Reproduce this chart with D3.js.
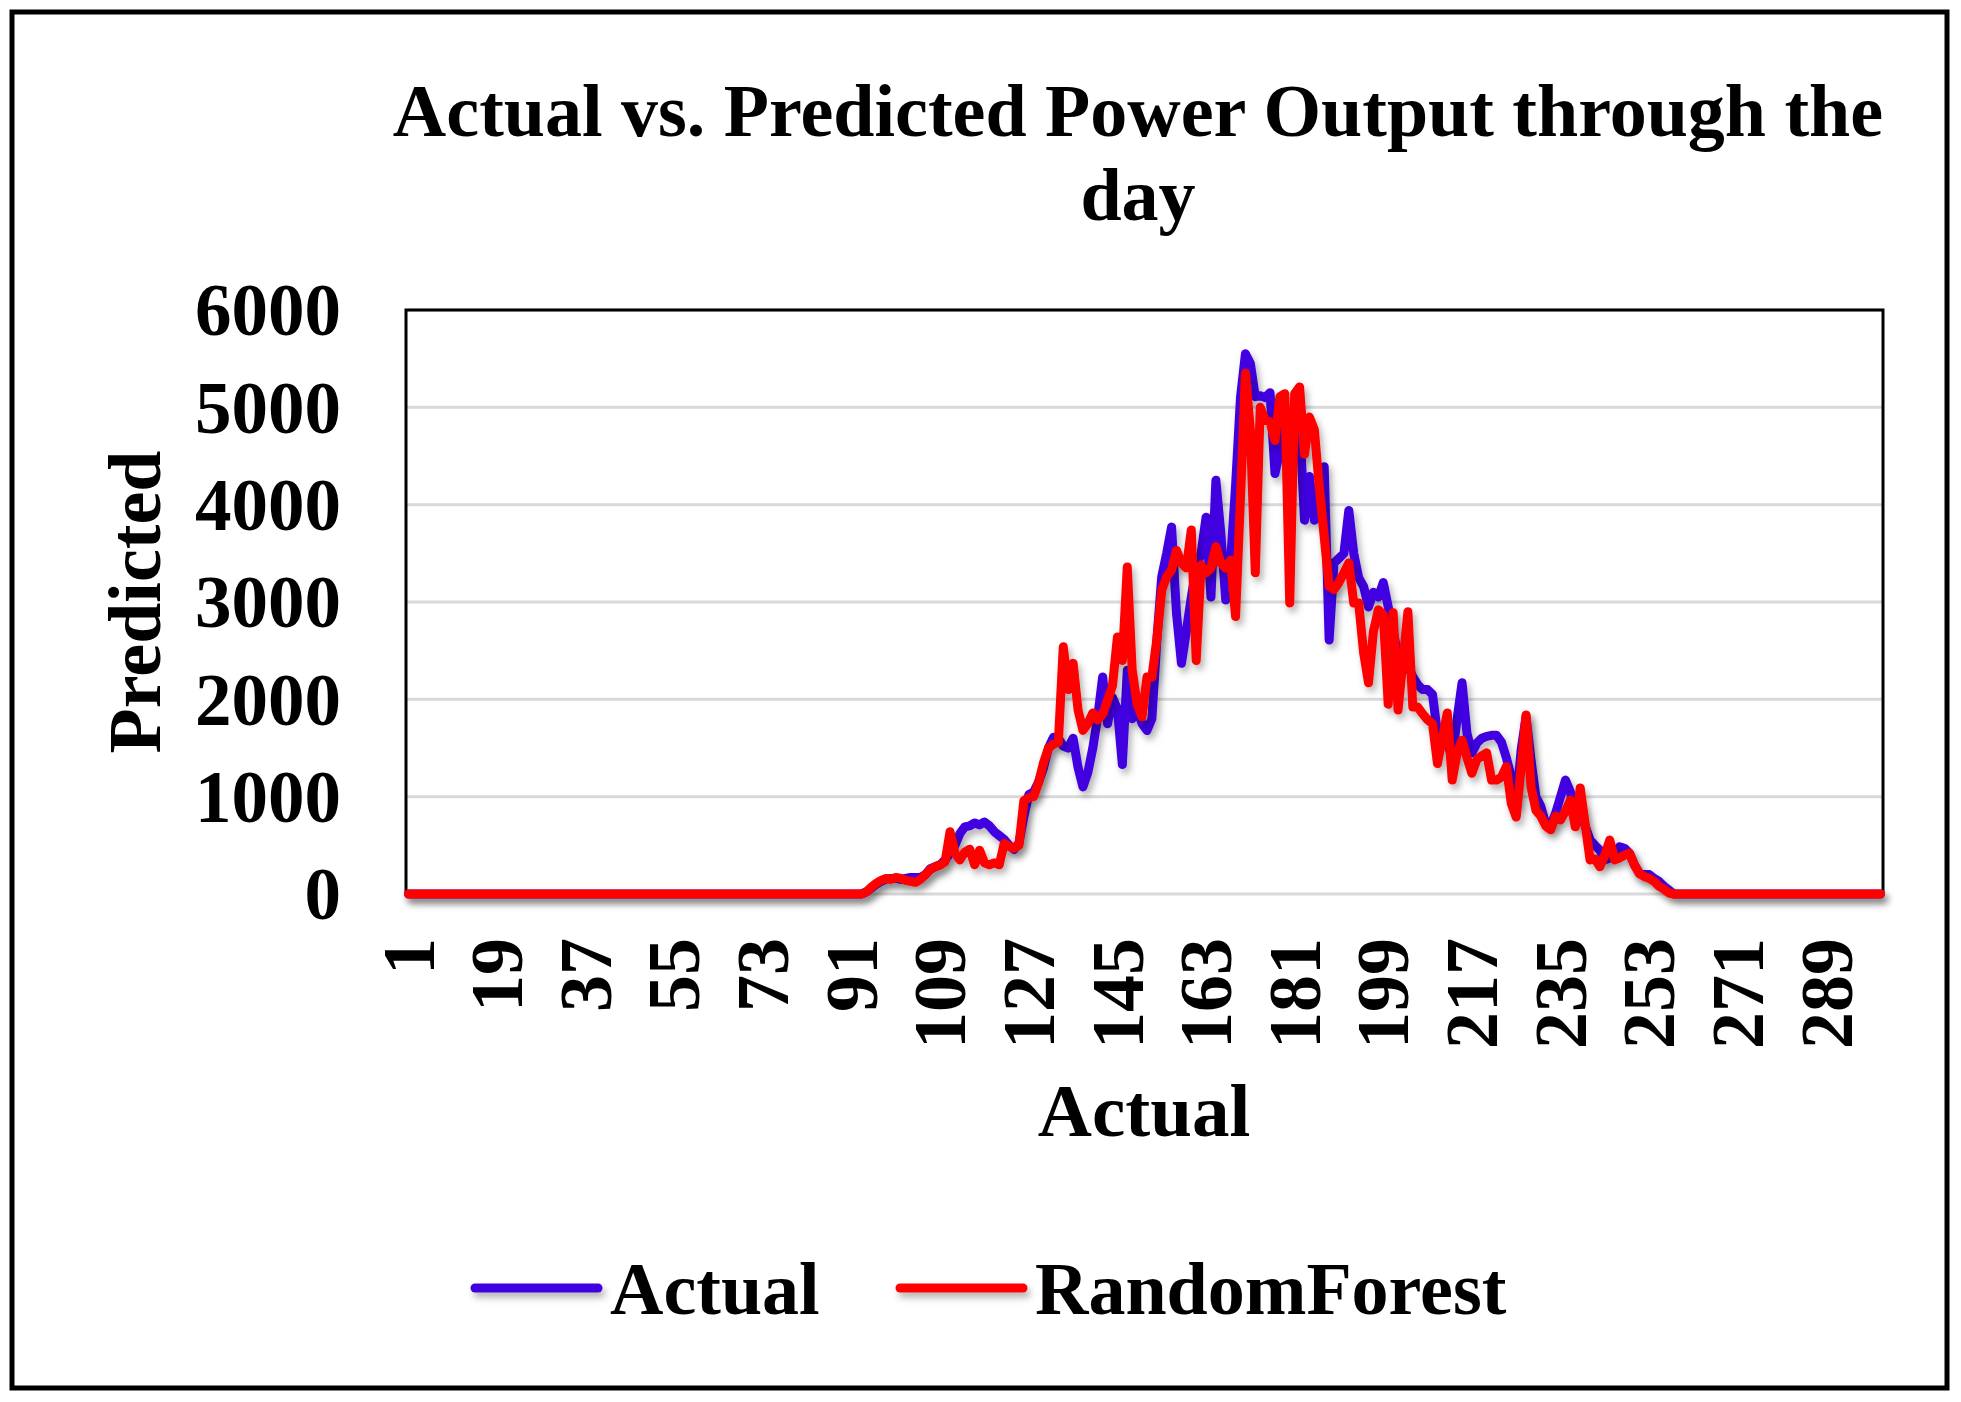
<!DOCTYPE html>
<html>
<head>
<meta charset="utf-8">
<script src="https://cdn.jsdelivr.net/npm/d3@7"></script>
<style>
  html, body { margin: 0; padding: 0; background: #fff; }
  svg { display: block; }
  text { font-family: "Liberation Serif", "Times New Roman", serif; font-weight: bold; fill: #000; }
</style>
</head>
<body>
<svg id="chart" width="1961" height="1402"></svg>
<script>
// ---------- data ----------
const titleLines = ["Actual vs. Predicted Power Output through the", "day"];
const yTitle = "Predicted";
const xTitle = "Actual";
const seriesNames = ["Actual", "RandomForest"];
const seriesColors = ["#4000e0", "#ff0000"];
const categories = d3.range(1, 301);
const xTickLabels = [1, 19, 37, 55, 73, 91, 109, 127, 145, 163, 181, 199, 217, 235, 253, 271, 289];
const yTickLabels = [0, 1000, 2000, 3000, 4000, 5000, 6000];

const actualValues = [
  0,0,0,0,0,0,0,0,0,0, 0,0,0,0,0,0,0,0,0,0, 0,0,0,0,0,0,0,0,0,0,
  0,0,0,0,0,0,0,0,0,0, 0,0,0,0,0,0,0,0,0,0, 0,0,0,0,0,0,0,0,0,0,
  0,0,0,0,0,0,0,0,0,0, 0,0,0,0,0,0,0,0,0,0, 0,0,0,0,0,0,0,0,0,0,
  0,0,0,
  20,60,100,130,150,160,160,150,160,170,170,170,200,260,280,300,350,420,500,620,
  690,700,730,710,740,700,640,600,560,500,460,520,800,1020,1050,1150,1300,1500,1610,1600,
  1520,1500,1600,1300,1100,1250,1500,1820,2230,1750,2020,1900,1330,2300,1800,1900,1750,1680,1800,2600,
  3260,3500,3770,2880,2370,2700,3050,3350,3500,3870,3050,4250,3710,3020,3430,4200,5100,5550,5450,5110,
  5120,5100,5150,4320,4560,5000,4700,4800,4830,3840,4290,3840,4100,4390,2610,3400,3450,3500,3940,3500,
  3250,3160,2950,3100,3050,3200,2950,2700,2450,2400,2350,2230,2150,2100,2100,2050,1650,1650,1550,1400,
  1800,2170,1650,1450,1550,1600,1620,1630,1630,1560,1400,1200,930,1480,1820,1380,1000,900,720,700,
  830,1000,1170,1050,760,900,700,555,500,450,350,370,430,485,470,420,300,215,200,200,
  160,130,80,40,
  0,0,0,0,0,0,0,0,0,0, 0,0,0,0,0,0,0,0,0,0, 0,0,0,0,0,0,0,0,0,0, 0,0,0,0,0,0,0,0,0,0, 0,0,0
];

const randomForestValues = [
  0,0,0,0,0,0,0,0,0,0, 0,0,0,0,0,0,0,0,0,0, 0,0,0,0,0,0,0,0,0,0,
  0,0,0,0,0,0,0,0,0,0, 0,0,0,0,0,0,0,0,0,0, 0,0,0,0,0,0,0,0,0,0,
  0,0,0,0,0,0,0,0,0,0, 0,0,0,0,0,0,0,0,0,0, 0,0,0,0,0,0,0,0,0,0,
  0,0,0,
  20,70,110,140,160,150,170,160,140,130,120,150,200,250,280,300,330,640,420,350,
  430,460,300,450,320,300,320,300,520,490,470,500,960,990,1000,1150,1350,1500,1540,1560,
  2540,2100,2370,1890,1680,1750,1860,1790,1850,1990,2140,2640,2400,3360,2300,1950,1820,2230,2230,2610,
  3120,3260,3330,3530,3400,3350,3740,2400,3380,3300,3350,3570,3400,3350,3430,2850,4080,5350,4770,3300,
  5000,4870,4850,4660,5110,5140,2990,5140,5210,4520,4900,4770,4180,3670,3160,3130,3200,3300,3400,2990,
  2990,2480,2170,2700,2920,2870,1950,2890,1890,2400,2900,1920,1920,1850,1790,1750,1340,1600,1860,1170,
  1450,1580,1400,1240,1380,1420,1450,1170,1170,1200,1310,930,790,1300,1840,1100,860,800,700,660,
  800,760,850,965,690,1090,720,350,360,280,400,555,350,370,400,420,300,210,180,160,
  130,80,50,10,
  0,0,0,0,0,0,0,0,0,0, 0,0,0,0,0,0,0,0,0,0, 0,0,0,0,0,0,0,0,0,0, 0,0,0,0,0,0,0,0,0,0, 0,0,0
];

// ---------- layout ----------
const svg = d3.select("#chart");
const W = 1961, H = 1402;
const plot = { left: 406, top: 310, right: 1883, bottom: 894 };
const FONT = "'Liberation Serif', 'Times New Roman', serif";

svg.append("rect").attr("x", 0).attr("y", 0).attr("width", W).attr("height", H).attr("fill", "#fff");
svg.append("rect").attr("x", 12).attr("y", 12).attr("width", 1935).attr("height", 1376)
  .attr("fill", "none").attr("stroke", "#000").attr("stroke-width", 5);

const defs = svg.append("defs");
const f = defs.append("filter").attr("id", "shadow").attr("filterUnits", "userSpaceOnUse")
  .attr("x", 0).attr("y", 0).attr("width", W).attr("height", H);
f.append("feDropShadow").attr("dx", 3).attr("dy", 5).attr("stdDeviation", 3.5)
  .attr("flood-color", "#000").attr("flood-opacity", 0.3);

const x = d3.scaleBand().domain(categories).range([plot.left, plot.right]).padding(0);
const xc = d => x(d) + x.bandwidth() / 2;
const y = d3.scaleLinear().domain([0, 6000]).range([plot.bottom, plot.top]);

// gridlines
svg.append("g").selectAll("line").data(yTickLabels).join("line")
  .attr("x1", plot.left).attr("x2", plot.right)
  .attr("y1", d => y(d)).attr("y2", d => y(d))
  .attr("stroke", "#d9d9d9").attr("stroke-width", 3);

// plot frame (left, top, right)
svg.append("path")
  .attr("d", `M${plot.left},${plot.bottom}V${plot.top}H${plot.right}V${plot.bottom}`)
  .attr("fill", "none").attr("stroke", "#000").attr("stroke-width", 3);

// y axis
const yAxis = svg.append("g").attr("transform", `translate(${plot.left},0)`)
  .call(d3.axisLeft(y).tickValues(yTickLabels).tickSize(0).tickPadding(65).tickFormat(d3.format("d")));
yAxis.select(".domain").remove();
yAxis.selectAll("text").style("font-size", "73px").attr("dy", "0.34em")
  .style("font-family", FONT).style("font-weight", "bold");

// x axis
const xAxis = svg.append("g").attr("transform", `translate(0,${plot.bottom})`)
  .call(d3.axisBottom(x).tickValues(xTickLabels).tickSize(0));
xAxis.select(".domain").remove();
xAxis.selectAll("text")
  .attr("transform", "rotate(-90)")
  .attr("x", -44).attr("y", 0).attr("dy", "0.34em")
  .attr("text-anchor", "end")
  .style("font-size", "74px")
  .style("font-family", FONT).style("font-weight", "bold");

// lines
const line = d3.line().x((d, i) => xc(categories[i])).y(d => y(d)).curve(d3.curveLinear);
[actualValues, randomForestValues].forEach((vals, k) => {
  svg.append("path").datum(vals)
    .attr("d", line)
    .attr("fill", "none")
    .attr("stroke", seriesColors[k])
    .attr("stroke-width", 9)
    .attr("stroke-linejoin", "round")
    .attr("stroke-linecap", "round")
    .attr("filter", "url(#shadow)");
});

// titles
svg.append("text").attr("x", 1138).attr("y", 136).attr("text-anchor", "middle")
  .style("font-size", "74px").text(titleLines[0]);
svg.append("text").attr("x", 1138).attr("y", 220).attr("text-anchor", "middle")
  .style("font-size", "74px").text(titleLines[1]);

svg.append("text").attr("transform", "translate(160,602) rotate(-90)").attr("text-anchor", "middle")
  .style("font-size", "74px").text(yTitle);

svg.append("text").attr("x", 1144).attr("y", 1136).attr("text-anchor", "middle")
  .style("font-size", "75px").text(xTitle);

// legend
const legendItems = [
  { name: seriesNames[0], color: seriesColors[0], x1: 475, x2: 598, tx: 610 },
  { name: seriesNames[1], color: seriesColors[1], x1: 900, x2: 1023, tx: 1035 }
];
const lg = svg.append("g");
legendItems.forEach(it => {
  lg.append("line").attr("x1", it.x1).attr("x2", it.x2).attr("y1", 1288).attr("y2", 1288)
    .attr("stroke", it.color).attr("stroke-width", 9).attr("stroke-linecap", "round")
    .attr("filter", "url(#shadow)");
  lg.append("text").attr("x", it.tx).attr("y", 1314).style("font-size", "74px").text(it.name);
});
</script>
</body>
</html>
